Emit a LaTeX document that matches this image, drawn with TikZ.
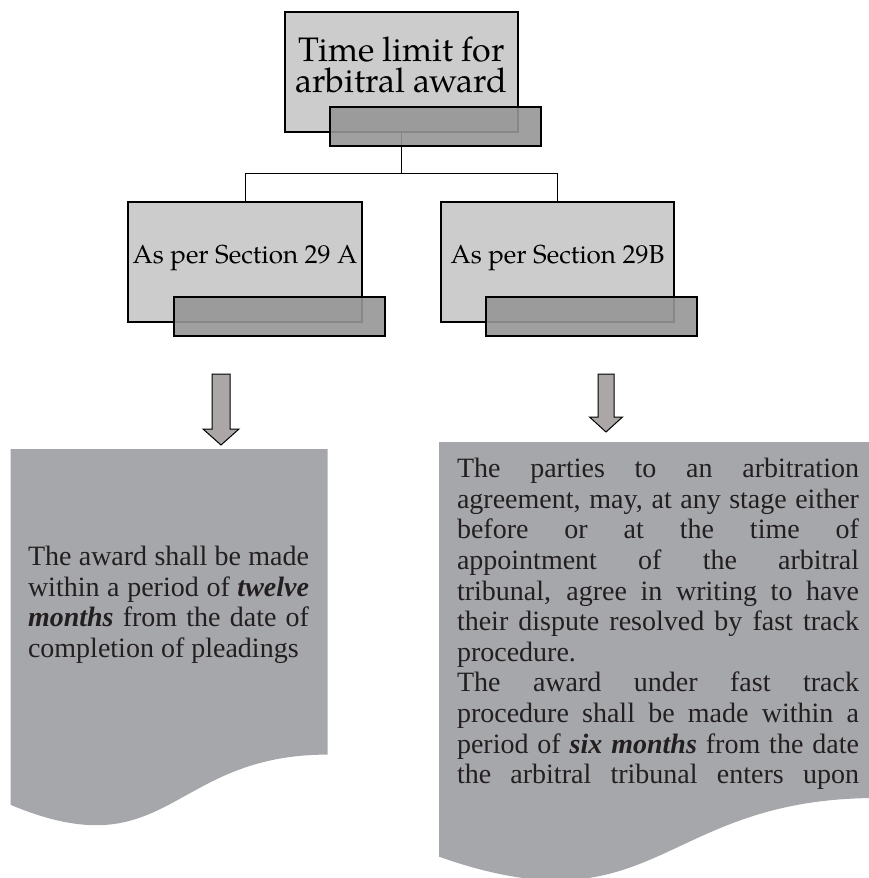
\documentclass[tikz,border=0pt]{standalone}
\usepackage{fontspec}
\setmainfont{Liberation Serif}
\newfontfamily\palfont{TeX Gyre Pagella}
\definecolor{boxgray}{RGB}{204,204,204}
\definecolor{bandgray}{RGB}{150,150,150}
\definecolor{docgray}{RGB}{166,167,171}
\definecolor{arrowgray}{RGB}{171,167,167}
\definecolor{inkgray}{RGB}{35,31,32}
% one justified line of text, spaces stretched to the given width
\newcommand{\fullline}[2][402pt]{\makebox[#1][s]{\spaceskip=0pt\relax #2}}
\newcommand{\keyword}[1]{\textbf{\textit{#1}}}
\begin{document}
\begin{tikzpicture}[x=1pt,y=-1pt,
  labelbox/.style={draw=black, line width=1.4pt, fill=boxgray, inner sep=0pt, align=center},
  band/.style={draw=black, line width=1.4pt, fill=bandgray, fill opacity=0.9,
    minimum width=211pt, minimum height=39pt, inner sep=0pt, anchor=south east},
  link/.style={draw=black, line width=1pt},
  blockarrow/.style={draw=black, line width=1pt, fill=arrowgray},
  doctext/.style={text=inkgray, inner sep=0pt, align=justify, font=\fontsize{28}{30.6}\selectfont}]
  \useasboundingbox (0,0) rectangle (869,878);

  % heading and the two sections
  \node[labelbox, minimum width=233pt, minimum height=120pt, text depth=14pt,
        font=\palfont\fontsize{34}{31}\selectfont] (title) at (401.5,72) {Time limit for\\arbitral award};
  \node[labelbox, minimum width=234pt, minimum height=120pt, text depth=16pt,
        font=\palfont\fontsize{26}{30}\selectfont] (secA) at (245,262) {As per Section 29 A};
  \node[labelbox, minimum width=233pt, minimum height=120pt, text depth=16pt,
        font=\palfont\fontsize{26}{30}\selectfont] (secB) at (557.5,262) {As per Section 29B};

  % tree lines
  \draw[link] (title.south) -- ++(0,41) coordinate (fork) -| (secA.north);
  \draw[link] (fork) -| (secB.north);

  % dark bands over the lower right corners
  \foreach \b in {title,secA,secB}
    \node[band] (\b band) at ([shift={(23,14)}]\b.south east) {};

  % block arrows: centre / head base / tip / half shaft / half head
  \foreach \cx/\hb/\tip/\sw/\hw in {221/429/445/9/18, 606/417/432/8/16.5}
    \draw[blockarrow] ({\cx-\sw},374) -- ({\cx+\sw},374) -- ({\cx+\sw},\hb) -- ({\cx+\hw},\hb)
      -- (\cx,\tip) -- ({\cx-\hw},\hb) -- ({\cx-\sw},\hb) -- cycle;

  % document shapes with wavy bottom
  \fill[docgray] (10.7,449) -- (327.7,449) -- (327.7,754.6)
    .. controls (169.2,754.6) and (169.2,871) .. (10.7,804.9) -- cycle;
  \fill[docgray] (439,442) -- (877,442) -- (877,798)
    .. controls (658,798) and (658,933.7) .. (439,856.7) -- cycle;

  \node[doctext, text width=281pt] (ruleA) at (168.5,605) {%
    \fullline[281pt]{The award shall be made}\\
    \fullline[281pt]{within a period of \keyword{twelve}}\\
    \fullline[281pt]{\keyword{months} from the date of}\\
    completion of pleadings};
  \node[doctext, text width=402pt] (ruleB) at (658,624) {%
    \fullline{The parties to an arbitration}\\
    \fullline{agreement, may, at any stage either}\\
    \fullline{before or at the time of}\\
    \fullline{appointment of the arbitral}\\
    \fullline{tribunal, agree in writing to have}\\
    \fullline{their dispute resolved by fast track}\\
    procedure.\\
    \fullline{The award under fast track}\\
    \fullline{procedure shall be made within a}\\
    \fullline{period of \keyword{six months} from the date}\\
    \fullline{the arbitral tribunal enters upon}};
\end{tikzpicture}
\end{document}
